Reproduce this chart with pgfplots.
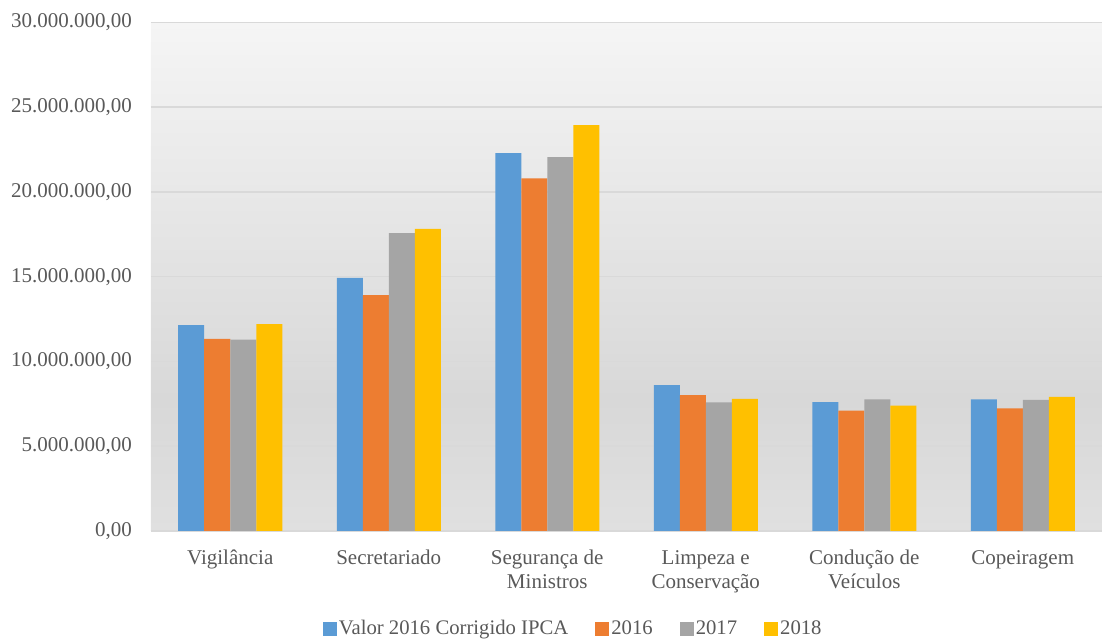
\documentclass[border=0pt]{standalone}
\usepackage{fontspec}
\setmainfont{Liberation Serif}
\usepackage{pgfplots}
\pgfplotsset{compat=1.18}
\definecolor{cBlue}{HTML}{5B9BD5}
\definecolor{cOrange}{HTML}{ED7D31}
\definecolor{cGray}{HTML}{A5A5A5}
\definecolor{cYellow}{HTML}{FFC000}
\definecolor{cGrid}{HTML}{D9D9D9}
\definecolor{cText}{HTML}{595959}
\definecolor{bgTop}{HTML}{F5F5F5}
\definecolor{bgMid}{HTML}{D8D8D8}
\definecolor{bgBot}{HTML}{E0E0E0}
\pgfdeclareverticalshading{bgshade}{100bp}{color(0bp)=(bgBot); color(25bp)=(bgBot); color(38bp)=(bgMid); color(75bp)=(bgTop); color(100bp)=(bgTop)}
\begin{document}
\fontsize{21}{24}\selectfont
\begin{tikzpicture}
\path[use as bounding box] (0,0) rectangle (1102pt,639pt);
\begin{axis}[
  at={(151pt,108pt)}, anchor=south west,
  scale only axis, width=951pt, height=508.5pt,
  ybar=0pt, bar width=26pt,
  xmin=-0.5, xmax=5.5, ymin=0, ymax=30000000,
  xtick={0,1,2,3,4,5},
  xticklabels={Vigilância, Secretariado, {Segurança de\\Ministros}, {Limpeza e\\Conservação}, {Condução de\\Veículos}, Copeiragem},
  xticklabel style={align=center, text=cText, font=\fontsize{21}{24}\selectfont},
  ytick={0,5000000,10000000,15000000,20000000,25000000,30000000},
  scaled y ticks=false,
  yticklabel style={text=cText, font=\fontsize{21}{24}\selectfont, /pgf/number format/.cd, fixed, fixed zerofill, precision=2, use comma, 1000 sep={.}, assume math mode=true},
  major tick length=0pt,
  ymajorgrids, grid style={cGrid, line width=1.5pt},
  axis x line*=bottom, axis y line*=left,
  y axis line style={draw=none},
  x axis line style={draw=cGrid, line width=1.5pt, -},
  axis background/.style={shading=bgshade},
  yticklabel shift=12pt,
  xticklabel shift=12pt,
  legend style={at={(0.444,-0.193)}, anchor=center, draw=none, fill=none, legend columns=-1, font=\fontsize{20.7}{24}\selectfont, text=cText, /tikz/every even column/.append style={column sep=25pt}},
  legend image code/.code={\fill[#1] (0pt,-7pt) rectangle (14pt,7pt);},
  legend cell align=left,
]
\addplot[fill=cBlue, draw=none] coordinates {(0,12150000) (1,14930000) (2,22300000) (3,8610000) (4,7610000) (5,7770000)};
\addplot[fill=cOrange, draw=none] coordinates {(0,11330000) (1,13920000) (2,20810000) (3,8020000) (4,7100000) (5,7240000)};
\addplot[fill=cGray, draw=none] coordinates {(0,11290000) (1,17580000) (2,22050000) (3,7590000) (4,7770000) (5,7730000)};
\addplot[fill=cYellow, draw=none] coordinates {(0,12210000) (1,17820000) (2,23950000) (3,7790000) (4,7390000) (5,7910000)};
\legend{Valor 2016 Corrigido IPCA, 2016, 2017, 2018}
\end{axis}
\end{tikzpicture}
\end{document}
